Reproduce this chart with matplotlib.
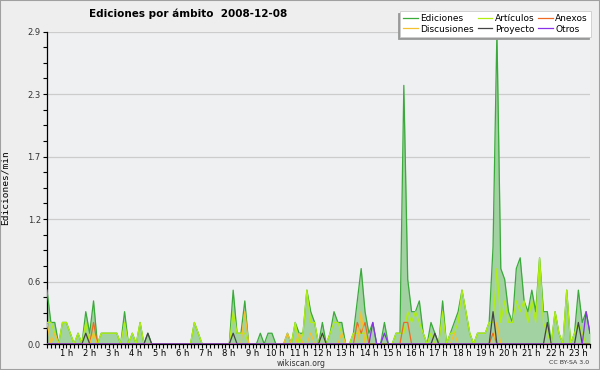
import matplotlib
matplotlib.use('Agg')
import matplotlib.pyplot as plt
import matplotlib.transforms as mtransforms
from matplotlib.patches import Rectangle
from matplotlib.ticker import FixedLocator, MultipleLocator
import numpy as np

# one value every 10 minutes, 00:00 .. 23:20
minutes = np.arange(141) * 10

ediciones = [0.5, 0.2, 0.2, 0, 0.2, 0.2, 0.1, 0, 0.1, 0,
             0.3, 0.1, 0.4, 0, 0.1, 0.1, 0.1, 0.1, 0.1, 0,
             0.3, 0, 0.1, 0, 0.2, 0, 0.1, 0, 0, 0,
             0, 0, 0, 0, 0, 0, 0, 0, 0.2, 0.1,
             0, 0, 0, 0, 0, 0, 0, 0, 0.5, 0.1,
             0.1, 0.4, 0, 0, 0, 0.1, 0, 0.1, 0.1, 0,
             0, 0, 0.1, 0, 0.2, 0.1, 0.1, 0.5, 0.3, 0.2,
             0, 0.2, 0, 0.1, 0.3, 0.2, 0.2, 0, 0, 0.1,
             0.4, 0.7, 0.3, 0.1, 0.2, 0, 0, 0.2, 0, 0,
             0.1, 0.1, 2.4, 0.6, 0.3, 0.3, 0.4, 0.1, 0, 0.2,
             0.1, 0, 0.4, 0, 0.1, 0.2, 0.3, 0.5, 0.3, 0.1,
             0, 0.1, 0.1, 0.1, 0.2, 0.9, 2.9, 0.7, 0.6, 0.3,
             0.2, 0.7, 0.8, 0.4, 0.3, 0.5, 0.3, 0.8, 0.3, 0.3,
             0, 0.3, 0.1, 0, 0.5, 0, 0.1, 0.5, 0.2, 0.3,
             0.1]

articulos = [0.2, 0.2, 0.1, 0, 0.2, 0.2, 0.1, 0, 0.1, 0,
             0.2, 0, 0.1, 0, 0.1, 0.1, 0.1, 0.1, 0.1, 0,
             0.2, 0, 0.1, 0, 0.2, 0, 0, 0, 0, 0,
             0, 0, 0, 0, 0, 0, 0, 0, 0.2, 0.1,
             0, 0, 0, 0, 0, 0, 0, 0, 0.3, 0.1,
             0.1, 0.1, 0, 0, 0, 0, 0, 0, 0, 0,
             0, 0, 0, 0, 0.2, 0, 0.1, 0.5, 0.2, 0.2,
             0, 0.1, 0, 0.1, 0.2, 0.2, 0.1, 0, 0, 0.1,
             0.1, 0.1, 0.1, 0, 0, 0, 0, 0, 0, 0,
             0.1, 0.1, 0.1, 0.3, 0.2, 0.3, 0.2, 0.1, 0, 0.1,
             0, 0, 0.3, 0, 0.1, 0.1, 0.2, 0.5, 0.3, 0.1,
             0, 0.1, 0.1, 0.1, 0.2, 0.2, 0.7, 0.2, 0.4, 0.2,
             0.2, 0.4, 0.3, 0.4, 0.2, 0.4, 0.2, 0.8, 0.2, 0.1,
             0, 0.3, 0.1, 0, 0.5, 0, 0.1, 0.2, 0.1, 0,
             0]

# sparse series: (10-minute slot, value)
discusiones = [(0, 0.2), (2, 0.1), (12, 0.1), (51, 0.3), (62, 0.1), (65, 0.1),
               (68, 0.1), (76, 0.1), (81, 0.3), (105, 0.1), (116, 0.2)]
anexos = [(12, 0.2), (80, 0.2), (81, 0.1), (82, 0.2), (92, 0.2), (93, 0.2), (115, 0.1)]
proyecto = [(10, 0.1), (26, 0.1), (48, 0.1), (71, 0.1), (100, 0.1), (115, 0.3),
            (129, 0.2), (137, 0.2)]
otros = [(84, 0.2), (87, 0.1), (139, 0.3), (140, 0.1)]

ytick_vals = [0.0, 0.58, 1.16, 1.74, 2.32, 2.9]
ytick_labels = ['0.0', '0.6', '1.2', '1.7', '2.3', '2.9']
hour_labels = ['%d h' % h for h in range(1, 24)]


def expand(pairs):
    arr = np.zeros(len(minutes))
    for slot, val in pairs:
        arr[slot] = val
    return arr


fig = plt.figure(figsize=(6, 3.7), dpi=100, facecolor='#eeeeee')
ax = fig.add_axes([47 / 600, 1 - 344 / 370, 543 / 600, 312.5 / 370])
ax.set_facecolor('#eff0f2')

tot = np.array(ediciones)
ax.fill_between(minutes, 0, tot, color='#a2d2a2', linewidth=0, zorder=2)
ax.plot(minutes, tot, color='#3aaa3a', linewidth=0.9, label='Ediciones', zorder=3)
ax.plot(minutes, articulos, color='#b0ee10', linewidth=0.9, label='Artículos', zorder=4)
ax.plot(minutes, expand(anexos), color='#ee6a22', linewidth=0.9, label='Anexos', zorder=5)
ax.plot(minutes, expand(discusiones), color='#f5c030', linewidth=0.9, label='Discusiones', zorder=5)
ax.plot(minutes, expand(proyecto), color='#444444', linewidth=0.9, label='Proyecto', zorder=6)
ax.plot(minutes, expand(otros), color='#8a30e8', linewidth=0.9, label='Otros', zorder=6)

ax.set_xlim(0, minutes[-1])
ax.set_ylim(0, 2.9)

for s in ['top', 'right']:
    ax.spines[s].set_visible(False)
ax.spines['left'].set_linewidth(0.9)
ax.spines['bottom'].set_linewidth(0.9)

ax.yaxis.set_major_locator(FixedLocator(ytick_vals))
ax.set_yticklabels(ytick_labels)
ax.yaxis.set_minor_locator(MultipleLocator(2.9 / 20))
ax.xaxis.set_major_locator(FixedLocator([60 * h for h in range(1, 24)]))
ax.set_xticklabels(hour_labels)
ax.xaxis.set_minor_locator(MultipleLocator(10))
ax.tick_params(axis='both', which='both', direction='out', length=3, width=0.8,
               labelsize=6, colors='black')
ax.tick_params(axis='x', pad=0.5)
ax.tick_params(axis='y', pad=1.5, labelcolor='#333333')
ax.grid(axis='y', which='major', color='#cccccc', linewidth=0.9, zorder=0)
ax.set_axisbelow(True)

# hour labels sit a little left of their tick
shift = mtransforms.ScaledTranslation(-4 / 100, 0, fig.dpi_scale_trans)
for lab in ax.get_xticklabels():
    lab.set_transform(lab.get_transform() + shift)

ax.set_ylabel('Ediciones/min', family='DejaVu Sans Mono', fontsize=6.8)
ax.yaxis.set_label_coords(-0.068, 0.5)

fig.text(188 / 600, 1 - 14 / 370, 'Ediciones por ámbito  2008-12-08',
         ha='center', va='center', fontsize=7.5, fontweight='bold')
fig.text(301 / 600, 1 - 363.5 / 370, 'wikiscan.org', ha='center', va='center',
         fontsize=5.6, color='#333333')
fig.text(589 / 600, 1 - 363 / 370, 'CC BY-SA 3.0', ha='right', va='center',
         fontsize=4.5, color='#333333')

h, l = ax.get_legend_handles_labels()
order = [0, 3, 1, 4, 2, 5]
leg = fig.legend([h[i] for i in order], [l[i] for i in order], ncol=3,
                 loc='upper right', bbox_to_anchor=(591 / 600, 1 - 11 / 370),
                 fontsize=6.5, frameon=True, fancybox=False, edgecolor='#cccccc',
                 handlelength=1.6, handletextpad=0.3, columnspacing=0.4,
                 labelspacing=0.15, borderpad=0.35, borderaxespad=0,
                 shadow={'ox': -1.5, 'oy': -1.5, 'color': '#999999', 'alpha': 1})
leg.get_frame().set_linewidth(0.6)

fig.patches.append(Rectangle((0, 0), 1, 1, transform=fig.transFigure, fill=False,
                             edgecolor='#a0a0a0', linewidth=1.5))

fig.savefig('out.png', dpi=100, facecolor=fig.get_facecolor())
